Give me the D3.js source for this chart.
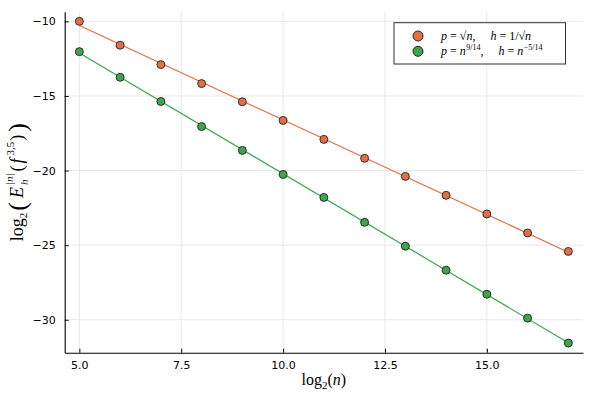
<!DOCTYPE html>
<html>
<head>
<meta charset="utf-8">
<script src="https://cdn.jsdelivr.net/npm/d3@7"></script>
<style>
  html, body { margin: 0; padding: 0; background: #fff; }
  svg { display: block; }
</style>
</head>
<body>
<div id="chart"></div>
<script>
// log2(n) values
var logN = [5, 6, 7, 8, 9, 10, 11, 12, 13, 14, 15, 16, 17];
// p = sqrt(n), h = 1/sqrt(n)
var errSqrt = [-10.0, -11.6, -12.9, -14.17, -15.39, -16.64, -17.91, -19.18, -20.39, -21.66, -22.91, -24.18, -25.42];
// p = n^(9/14), h = n^(-5/14)
var errPow = [-12.03, -13.75, -15.37, -17.05, -18.65, -20.26, -21.8, -23.47, -25.07, -26.68, -28.29, -29.89, -31.56];

var xTicks = [5, 7.5, 10, 12.5, 15];
var yTicks = [-10, -15, -20, -25, -30];

var colors = ["#e26f46", "#3ea44e"];

var width = 595, height = 397;
var margin = {top: 11.7, right: 12, bottom: 44.3, left: 64.7};

var svg = d3.select("#chart").append("svg")
    .attr("width", width)
    .attr("height", height);

// 3% padding around data, like the plotting default
function padded(lo, hi) {
    var d = (hi - lo) * 0.03;
    return [lo - d, hi + d];
}

var allY = errSqrt.concat(errPow);
var x = d3.scaleLinear()
    .domain(padded(d3.min(logN), d3.max(logN)))
    .range([margin.left, width - margin.right]);
var y = d3.scaleLinear()
    .domain(padded(d3.min(allY), d3.max(allY)).reverse())
    .range([margin.top, height - margin.bottom]);

// grid
var grid = svg.append("g");
grid.selectAll("line.gx").data(xTicks).enter().append("line")
    .attr("x1", function (d) { return x(d); })
    .attr("x2", function (d) { return x(d); })
    .attr("y1", margin.top)
    .attr("y2", height - margin.bottom)
    .attr("stroke", "#e8e8e8")
    .attr("stroke-width", 1);
grid.selectAll("line.gy").data(yTicks).enter().append("line")
    .attr("y1", function (d) { return y(d); })
    .attr("y2", function (d) { return y(d); })
    .attr("x1", margin.left)
    .attr("x2", width - margin.right)
    .attr("stroke", "#e8e8e8")
    .attr("stroke-width", 1);

// axes (ticks point inward)
var fmtX = function (d) { return d3.format(".1f")(d); };
var fmtY = function (d) { return d3.format("d")(d).replace("-", "\u2212"); };

var xAxis = svg.append("g")
    .attr("transform", "translate(0," + (height - margin.bottom) + ")")
    .call(d3.axisBottom(x).tickValues(xTicks).tickFormat(fmtX).tickSizeInner(-4).tickSizeOuter(0).tickPadding(9));
var yAxis = svg.append("g")
    .attr("transform", "translate(" + margin.left + ",0)")
    .call(d3.axisLeft(y).tickValues(yTicks).tickFormat(fmtY).tickSizeInner(-4).tickSizeOuter(0).tickPadding(9));

[xAxis, yAxis].forEach(function (a) {
    a.select(".domain").attr("stroke", "#000").attr("stroke-width", 1.1);
    a.selectAll(".tick line").attr("stroke", "#000").attr("stroke-width", 1);
    a.selectAll(".tick text")
        .attr("font-family", "DejaVu Sans")
        .attr("font-size", 11)
        .attr("fill", "#000");
});

// least squares fit line through each series
function fit(xs, ys) {
    var mx = d3.mean(xs), my = d3.mean(ys);
    var num = d3.sum(xs, function (v, i) { return (v - mx) * (ys[i] - my); });
    var den = d3.sum(xs, function (v) { return (v - mx) * (v - mx); });
    var b = num / den;
    return function (v) { return my + b * (v - mx); };
}

var series = [errSqrt, errPow];
var line = d3.line().x(function (d) { return x(d[0]); }).y(function (d) { return y(d[1]); });

series.forEach(function (vals, k) {
    var f = fit(logN, vals);
    var x0 = d3.min(logN), x1 = d3.max(logN);
    svg.append("path")
        .attr("d", line([[x0, f(x0)], [x1, f(x1)]]))
        .attr("fill", "none")
        .attr("stroke", colors[k])
        .attr("stroke-width", 1.2);
});

series.forEach(function (vals, k) {
    svg.append("g").selectAll("circle").data(vals).enter().append("circle")
        .attr("cx", function (d, i) { return x(logN[i]); })
        .attr("cy", function (d) { return y(d); })
        .attr("r", 4)
        .attr("fill", colors[k])
        .attr("stroke", "#222")
        .attr("stroke-width", 0.9);
});

// little typesetter: pieces laid out left to right
function typeset(g, pieces, base) {
    var cx = 0;
    pieces.forEach(function (p) {
        var group = Array.isArray(p) ? p : [p];
        var w = 0;
        group.forEach(function (q) {
            var t = g.append("text")
                .attr("x", cx + (q.dx || 0))
                .attr("y", q.dy || 0)
                .attr("font-family", "Liberation Serif, DejaVu Serif, serif")
                .attr("font-size", q.size || base)
                .attr("font-style", q.it ? "italic" : "normal")
                .attr("fill", "#000")
                .text(q.t);
            w = Math.max(w, t.node().getComputedTextLength() + (q.dx || 0) + (q.after || 0));
        });
        cx += w;
    });
    return cx;
}

// legend
var legend = svg.append("g");
legend.append("rect")
    .attr("x", 394).attr("y", 22.7)
    .attr("width", 171.5).attr("height", 41.3)
    .attr("fill", "#fff")
    .attr("stroke", "#333")
    .attr("stroke-width", 1);
var legRows = [36, 51.3];
legRows.forEach(function (ry, k) {
    legend.append("circle")
        .attr("cx", 418).attr("cy", ry).attr("r", 5)
        .attr("fill", colors[k]).attr("stroke", "#222").attr("stroke-width", 1);
});
var l1 = legend.append("g").attr("transform", "translate(441," + (legRows[0] + 4) + ")");
typeset(l1, [
    {t: "p", it: true, after: 3}, {t: "=", after: 3}, {t: "\u221A"}, {t: "n", it: true},
    {t: ",", after: 15}, {t: "h", it: true, after: 3}, {t: "=", after: 3}, {t: "1/\u221A"}, {t: "n", it: true}
], 12);
var l2 = legend.append("g").attr("transform", "translate(441," + (legRows[1] + 4) + ")");
typeset(l2, [
    {t: "p", it: true, after: 3}, {t: "=", after: 3}, {t: "n", it: true, after: 0.5},
    {t: "9/14", size: 8, dy: -5}, {t: ",", after: 15}, {t: "h", it: true, after: 3}, {t: "=", after: 3},
    {t: "n", it: true, after: 0.5}, {t: "\u22125/14", size: 8, dy: -5}
], 12);

// x label
var xl = svg.append("g");
var xw = typeset(xl, [
    {t: "log"}, {t: "2", size: 11, dy: 4}, {t: "("}, {t: "n", it: true}, {t: ")"}
], 16);
xl.attr("transform", "translate(" + ((margin.left + width - margin.right) / 2 - xw / 2) + ",385)");

// y label (rotated)
var yl = svg.append("g");
var yw = typeset(yl, [
    {t: "log"}, {t: "2", size: 11, dy: 4, after: 2}, {t: "(", size: 26, dy: 3, after: 4},
    {t: "E", it: true, after: 2},
    [{t: "|n|", it: true, size: 11, dy: -10, after: 2}, {t: "h", it: true, size: 11, dy: 5}],
    {t: "(", after: 2}, {t: "f", it: true, after: 3}, {t: "3,5", size: 11, dy: -9, after: 1}, {t: ")", after: 3},
    {t: ")", size: 26, dy: 3}
], 18);
var yc = (margin.top + height - margin.bottom) / 2;
yl.attr("transform", "translate(23," + (yc + yw / 2) + ") rotate(-90)");
</script>
</body>
</html>
